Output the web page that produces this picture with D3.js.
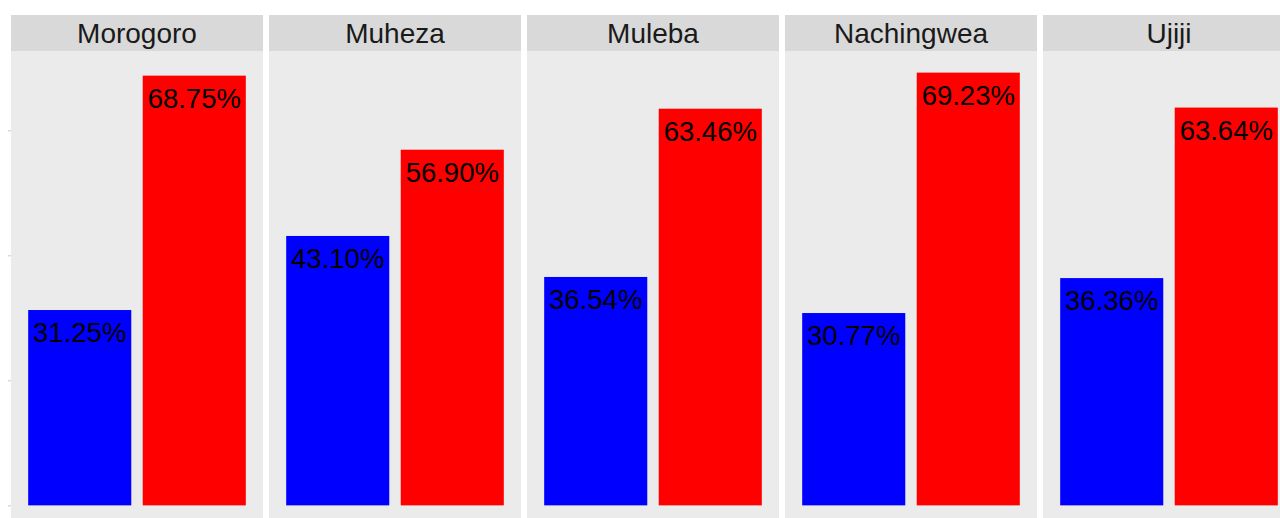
<!DOCTYPE html>
<html>
<head>
<meta charset="utf-8">
<script src="https://cdn.jsdelivr.net/npm/d3@7"></script>
<style>
  html, body { margin: 0; padding: 0; background: #fff; overflow: hidden; }
  svg { display: block; font-family: "Liberation Sans", Arial, Helvetica, sans-serif; }
</style>
</head>
<body>
<svg id="chart"></svg>
<script>
// facets, groups and shares (%)
var sites = ["Morogoro", "Muheza", "Muleba", "Nachingwea", "Ujiji"];
var groups = ["A", "B"];
var groupColors = ["#0000ff", "#ff0000"];
var valuesA = [31.25, 43.10, 36.54, 30.77, 36.36];
var valuesB = [68.75, 56.90, 63.46, 69.23, 63.64];
var yTicks = [0, 20, 40, 60];

var width = 1280, height = 518;
var stripTop = 15, stripH = 36, panelTop = 51, panelBottom = 527;

var svg = d3.select("#chart")
    .attr("width", width)
    .attr("height", height);

var fx = d3.scaleBand()
    .domain(sites)
    .range([11, 11 + 5 * 258 - 6])
    .paddingInner(6 / 258)
    .paddingOuter(0);

var x = d3.scaleBand()
    .domain(groups)
    .range([0, fx.bandwidth()])
    .paddingInner(0.1)
    .paddingOuter(0.15);

var maxV = d3.max(valuesA.concat(valuesB));
var pad = maxV * 0.05;
var y = d3.scaleLinear()
    .domain([-pad, maxV + pad])
    .range([panelBottom, panelTop]);

var rows = sites.map(function(s, i) {
  return { site: s, vals: [valuesA[i], valuesB[i]] };
});

var panels = svg.selectAll(".panel")
    .data(rows)
    .enter().append("g")
    .attr("class", "panel")
    .attr("transform", function(d) { return "translate(" + fx(d.site) + ",0)"; });

panels.append("rect")
    .attr("y", panelTop)
    .attr("width", fx.bandwidth())
    .attr("height", panelBottom - panelTop)
    .attr("fill", "#ebebeb");

panels.append("rect")
    .attr("y", stripTop)
    .attr("width", fx.bandwidth())
    .attr("height", stripH)
    .attr("fill", "#d9d9d9");

panels.append("text")
    .attr("x", fx.bandwidth() / 2)
    .attr("y", stripTop + 28)
    .attr("text-anchor", "middle")
    .attr("font-size", 28)
    .attr("fill", "#1a1a1a")
    .text(function(d) { return d.site; });

var bars = panels.selectAll(".bar")
    .data(function(d) {
      return d.vals.map(function(v, j) { return { g: groups[j], v: v, c: groupColors[j] }; });
    })
    .enter().append("g")
    .attr("class", "bar");

bars.append("rect")
    .attr("x", function(d) { return x(d.g); })
    .attr("y", function(d) { return y(d.v); })
    .attr("width", x.bandwidth())
    .attr("height", function(d) { return y(0) - y(d.v); })
    .attr("fill", function(d) { return d.c; });

bars.append("text")
    .attr("x", function(d) { return x(d.g) + x.bandwidth() / 2; })
    .attr("y", function(d) { return y(d.v) + 32; })
    .attr("text-anchor", "middle")
    .attr("font-size", 27.5)
    .attr("fill", "#000")
    .text(function(d) { return d.v.toFixed(2) + "%"; });

// y ticks on the first panel (labels fall outside the crop)
var yAxis = svg.append("g")
    .attr("transform", "translate(" + fx(sites[0]) + ",0)")
    .call(d3.axisLeft(y).tickValues(yTicks).tickSize(3).tickFormat(""));
yAxis.select(".domain").remove();
yAxis.selectAll("line").attr("stroke", "#c8c8c8");
</script>
</body>
</html>
